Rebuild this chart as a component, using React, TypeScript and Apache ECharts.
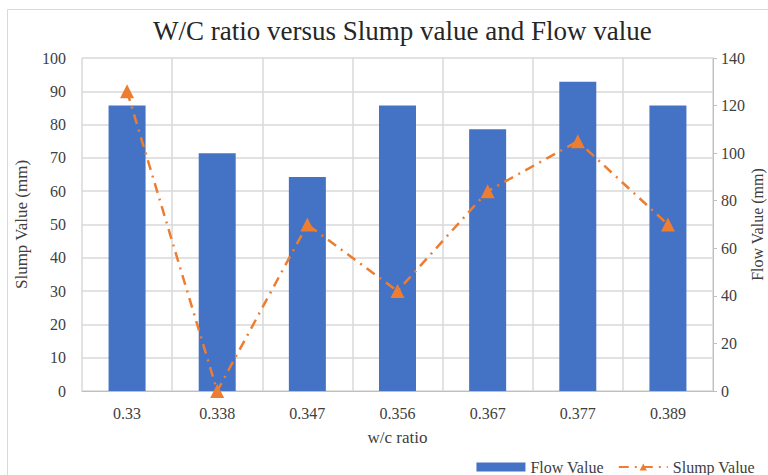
import React, { useEffect, useRef } from "react";
import * as echarts from "echarts";

const categories = ["0.33", "0.338", "0.347", "0.356", "0.367", "0.377", "0.389"];
const flowValues = [120, 100, 90, 120, 110, 130, 120];
const slumpValues = [90, 0, 50, 30, 60, 75, 50];
const leftTicks = { min: 0, max: 100, interval: 10 };
const rightTicks = { min: 0, max: 140, interval: 20 };

const FONT = "Liberation Serif";

export default function App() {
  const ref = useRef<HTMLDivElement>(null);
  useEffect(() => {
    if (!ref.current) return;
    const chart = echarts.init(ref.current, null, { renderer: "svg" });
    chart.setOption({
      animation: false,
      backgroundColor: "#ffffff",
      textStyle: { fontFamily: FONT },
      title: {
        text: "W/C ratio versus Slump value and Flow value",
        left: 148,
        top: 12,
        textStyle: { fontFamily: FONT, fontSize: 27, fontWeight: "normal", color: "#262626" },
      },
      graphic: [
        {
          type: "rect",
          shape: { x: 7.5, y: 9.5, width: 800, height: 500 },
          style: { fill: "none", stroke: "#d9d9d9", lineWidth: 1 },
          silent: true,
        },
      ],
      legend: {
        right: 8,
        top: 454,
        itemGap: 14,
        itemWidth: 49,
        itemHeight: 9,
        textStyle: { fontFamily: FONT, fontSize: 16, color: "#404040" },
        data: [
          { name: "Flow Value", icon: "rect" },
          { name: "Slump Value" },
        ],
      },
      grid: { left: 82, right: 55, top: 58, bottom: 84, outerBoundsMode: "none", containLabel: false },
      xAxis: {
        type: "category",
        data: categories,
        name: "w/c ratio",
        nameLocation: "middle",
        nameGap: 38,
        nameTextStyle: { fontFamily: FONT, fontSize: 17, color: "#404040" },
        axisLine: { show: true, lineStyle: { color: "#bfbfbf", width: 1 } },
        axisTick: { show: false },
        axisLabel: { fontFamily: FONT, fontSize: 16, color: "#404040", margin: 14 },
        splitLine: { show: true, lineStyle: { color: "#d9d9d9", width: 1.5 } },
      },
      yAxis: [
        {
          type: "value",
          min: leftTicks.min,
          max: leftTicks.max,
          interval: leftTicks.interval,
          name: "Slump Value (mm)",
          nameLocation: "middle",
          nameGap: 52,
          nameTextStyle: { fontFamily: FONT, fontSize: 17, color: "#404040" },
          axisLine: { show: false },
          axisTick: { show: false },
          axisLabel: { fontFamily: FONT, fontSize: 16, color: "#404040", margin: 16 },
          splitLine: { show: true, lineStyle: { color: "#d9d9d9", width: 1.5 } },
        },
        {
          type: "value",
          position: "right",
          min: rightTicks.min,
          max: rightTicks.max,
          interval: rightTicks.interval,
          name: "Flow Value (mm)",
          nameLocation: "middle",
          nameMoveOverlap: false,
          nameGap: 36,
          nameTextStyle: { fontFamily: FONT, fontSize: 16, color: "#404040" },
          axisLine: { show: true, lineStyle: { color: "#bfbfbf", width: 1 } },
          axisTick: { show: true, length: 4, lineStyle: { color: "#bfbfbf" } },
          axisLabel: { fontFamily: FONT, fontSize: 16, color: "#404040", margin: 8 },
          splitLine: { show: false },
        },
      ],
      series: [
        {
          name: "Flow Value",
          type: "bar",
          yAxisIndex: 1,
          data: flowValues,
          barWidth: 37,
          itemStyle: { color: "#4472C4" },
        },
        {
          name: "Slump Value",
          type: "line",
          yAxisIndex: 0,
          data: slumpValues,
          symbol: "triangle",
          symbolSize: 14,
          itemStyle: { color: "#ED7D31" },
          lineStyle: { color: "#ED7D31", width: 2.5, type: [10, 6, 2, 6] },
        },
      ],
    });
    return () => chart.dispose();
  }, []);
  return <div ref={ref} style={{ width: 768, height: 475, position: "absolute", left: 0, top: 0 }} />;
}
